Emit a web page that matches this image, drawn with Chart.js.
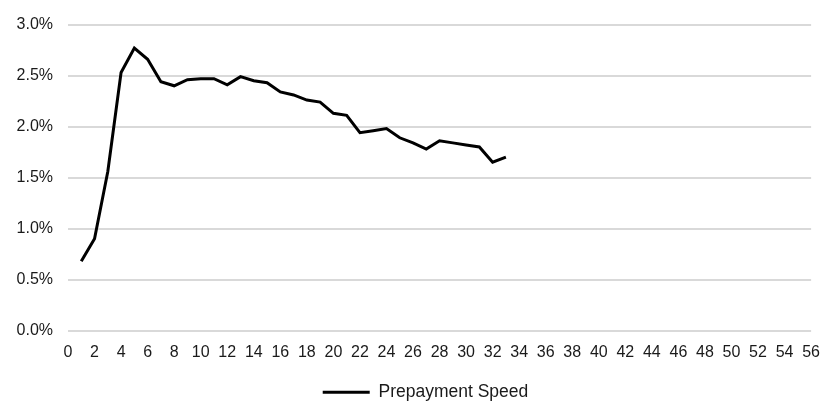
<!DOCTYPE html>
<html>
<head>
<meta charset="utf-8">
<script src="https://cdn.jsdelivr.net/npm/chart.js@4.4.1/dist/chart.umd.min.js"></script>
<style>
  html, body { margin: 0; padding: 0; background: #fff; }
  #wrap { width: 832px; height: 403px; }
</style>
</head>
<body>
<div id="wrap"><canvas id="chart" width="832" height="403"></canvas></div>
<script>
// months since origination
const months = [1, 2, 3, 4, 5, 6, 7, 8, 9, 10, 11, 12, 13, 14, 15, 16, 17,
                18, 19, 20, 21, 22, 23, 24, 25, 26, 27, 28, 29, 30, 31, 32, 33];
// prepayment speed, in percent
const prepaySpeed = [0.68, 0.90, 1.56, 2.53, 2.77, 2.66, 2.44, 2.40, 2.46, 2.47, 2.47,
                     2.41, 2.49, 2.45, 2.43, 2.34, 2.31, 2.26, 2.24, 2.13, 2.11, 1.94,
                     1.96, 1.98, 1.89, 1.84, 1.78, 1.86, 1.84, 1.82, 1.80, 1.65, 1.70];
const seriesLabel = 'Prepayment Speed';
const xRange = [0, 56];
const yRange = [0, 3];

const FONT = "'Liberation Sans', Arial, sans-serif";
const TEXT = '#1a1a1a';

// the legend sits a little right of centre in the original
const nudgeLegend = {
    id: 'nudgeLegend',
    afterLayout(chart) {
        if (!chart.legend) return;
        chart.legend.left += 17;
        chart.legend.right += 17;
    },
};

new Chart(document.getElementById('chart'), {
    type: 'line',
    data: {
        datasets: [{
            label: seriesLabel,
            data: months.map((m, i) => ({ x: m, y: prepaySpeed[i] })),
            borderColor: '#000',
            backgroundColor: '#000',
            borderWidth: 3,
            pointRadius: 0,
            tension: 0,
            fill: false,
        }],
    },
    options: {
        responsive: false,
        animation: false,
        layout: { padding: { top: 22, right: 15, bottom: -8, left: 0 } },
        plugins: {
            legend: {
                position: 'bottom',
                labels: {
                    usePointStyle: true,
                    pointStyle: 'line',
                    pointStyleWidth: 47,
                    padding: 2,
                    color: TEXT,
                    font: { family: FONT, size: 17.5, lineHeight: 1 },
                },
            },
            tooltip: { enabled: false },
        },
        scales: {
            x: {
                type: 'linear',
                min: xRange[0],
                max: xRange[1],
                grid: { display: false, drawTicks: false },
                border: { display: false },
                ticks: {
                    stepSize: 2,
                    autoSkip: false,
                    maxRotation: 0,
                    padding: 12,
                    color: TEXT,
                    font: { family: FONT, size: 16 },
                },
                afterFit: (scale) => { scale.height = 51; },
            },
            y: {
                min: yRange[0],
                max: yRange[1],
                grid: { color: '#d9d9d9', lineWidth: 2, drawTicks: false },
                border: { display: false },
                ticks: {
                    stepSize: 0.5,
                    padding: 15,
                    color: TEXT,
                    font: { family: FONT, size: 16 },
                    callback: (v) => v.toFixed(1) + '%',
                },
                afterFit: (scale) => { scale.width = 68; },
            },
        },
    },
    plugins: [nudgeLegend],
});
</script>
</body>
</html>
